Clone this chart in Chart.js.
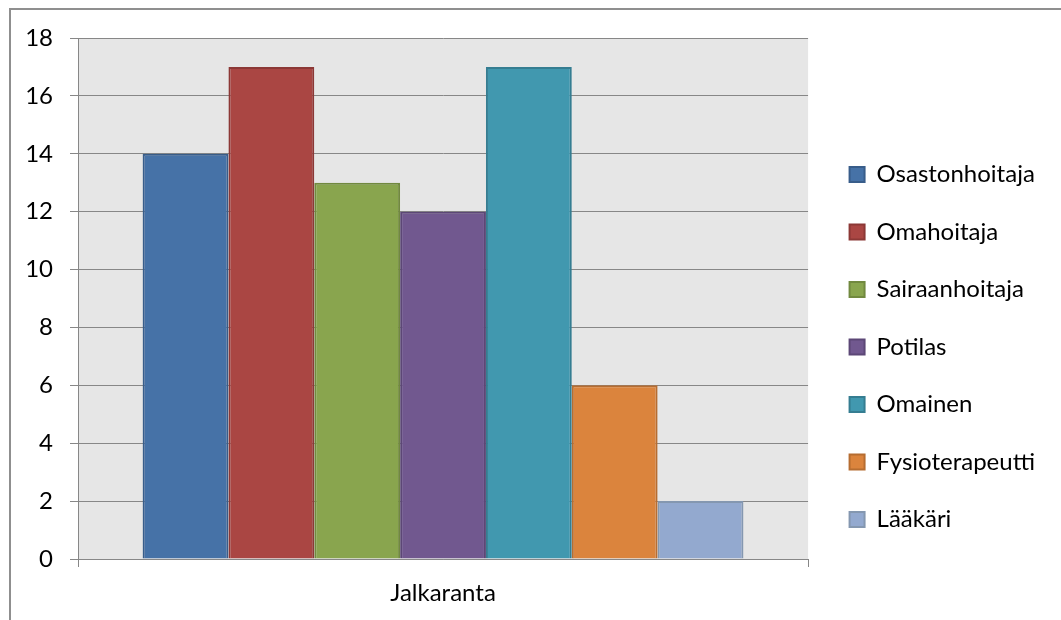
<html>
    <head>
        <meta name="viewport" content="width=device-width, initial-scale=1.0">
        <meta http-equiv="content-type" content="text/html; charset=UTF-8">
        <script src="https://cdn.jsdelivr.net/npm/chart.js"></script>
        <title>Jalkaranta</title>
        <style>
            body { margin: 0; background: #fff; }
        </style>
    </head>
    <body>
        <div style="position: relative; width: 1061px; height: 620px">
            <canvas id="chart"></canvas>
        </div>

        <script>
            const categories = ['Jalkaranta'];
            const seriesNames = ['Osastonhoitaja', 'Omahoitaja', 'Sairaanhoitaja', 'Potilas', 'Omainen', 'Fysioterapeutti', 'Lääkäri'];
            const seriesValues = [14, 17, 13, 12, 17, 6, 2];
            const fills = ['#4672a7', '#aa4643', '#89a54e', '#71588f', '#4198af', '#db843d', '#93a9cf'];
            const borders = ['#385d8a', '#8c3836', '#71893f', '#5c4776', '#357d91', '#b66d31', '#8497b0'];

            const FONT = { family: 'Lato', size: 24 };
            const GRID = '#878787';
            const LEGEND_DX = 8;   // nudge legend to match reference
            const LEGEND_DY = 18;

            // plot background + outer frame
            const decor = {
                id: 'decor',
                beforeDraw(chart) {
                    const {ctx, chartArea: a} = chart;
                    ctx.save();
                    ctx.fillStyle = '#e6e6e6';
                    ctx.fillRect(a.left, a.top, a.right - a.left, a.bottom - a.top);
                    ctx.strokeStyle = '#8f8f8f';
                    ctx.lineWidth = 2;
                    ctx.beginPath();
                    ctx.moveTo(10, chart.height);
                    ctx.lineTo(10, 9);
                    ctx.lineTo(chart.width, 9);
                    ctx.stroke();
                    ctx.restore();
                },
                afterLayout(chart) {
                    const L = chart.legend;
                    L.left += LEGEND_DX; L.right += LEGEND_DX;
                    L.top += LEGEND_DY; L.bottom += LEGEND_DY;
                }
            };

            new Chart(document.getElementById('chart'), {
                type: 'bar',
                data: {
                    labels: categories,
                    datasets: seriesNames.map((name, i) => ({
                        label: name,
                        data: [seriesValues[i]],
                        backgroundColor: fills[i],
                        borderColor: borders[i],
                        borderWidth: 2,
                        barPercentage: 1,
                        categoryPercentage: 0.823
                    }))
                },
                options: {
                    responsive: true,
                    maintainAspectRatio: false,
                    animation: false,
                    layout: { padding: { top: 38, right: 24, bottom: 0, left: 0 } },
                    plugins: {
                        legend: {
                            position: 'right',
                            align: 'center',
                            labels: {
                                font: FONT,
                                color: '#000',
                                boxWidth: 15,
                                boxHeight: 15,
                                padding: 33.5
                            }
                        },
                        tooltip: { enabled: false }
                    },
                    scales: {
                        x: {
                            afterFit(s) { s.height = 61; },
                            grid: { offset: true, drawOnChartArea: false, tickLength: 8, color: GRID },
                            border: { color: GRID },
                            ticks: { font: FONT, color: '#000', padding: 12 }
                        },
                        y: {
                            min: 0,
                            max: 18,
                            afterFit(s) { s.width = 78; },
                            grid: { color: GRID, tickLength: 8 },
                            border: { color: GRID },
                            ticks: { stepSize: 2, font: FONT, color: '#000', padding: 17 }
                        }
                    }
                },
                plugins: [decor]
            });
        </script>
    </body>
</html>
